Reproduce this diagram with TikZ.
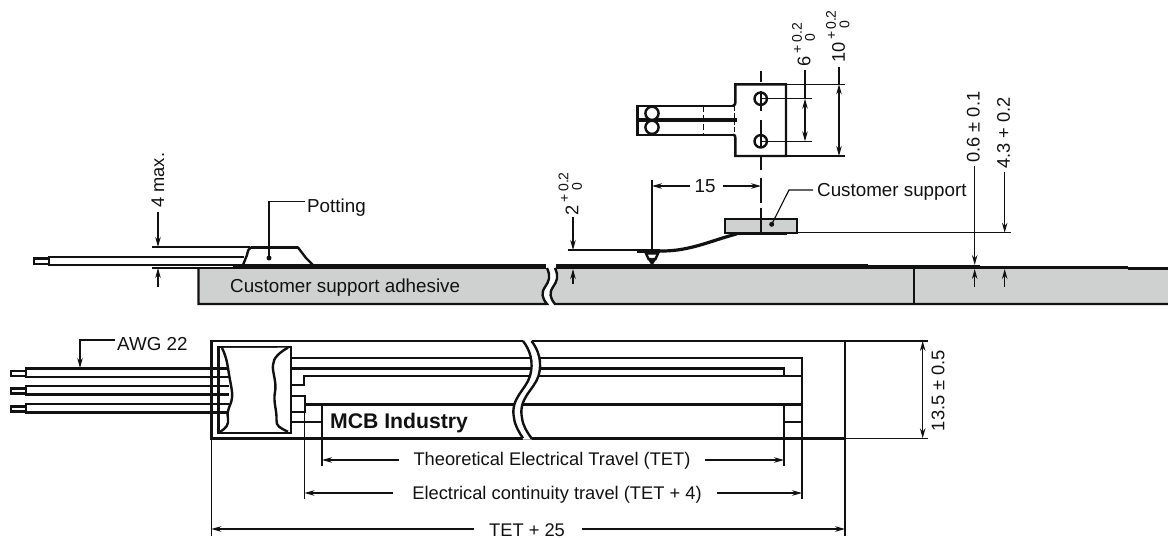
\documentclass[tikz,border=0pt]{standalone}
\usepackage{fontspec}
\setmainfont{Liberation Sans}
\usetikzlibrary{arrows.meta}
\definecolor{blockgray}{HTML}{CFD1D0}
\definecolor{inkc}{HTML}{111111}
\tikzset{
 thin line/.style={line width=1.15pt,draw=inkc},
 heavy/.style={line width=2.4pt,draw=inkc},
 dimarrow/.style={line width=1.15pt,draw=inkc,-{Stealth[length=10pt,width=5.5pt]}},
 dimboth/.style={line width=1.15pt,draw=inkc,{Stealth[length=10pt,width=5.5pt]}-{Stealth[length=10pt,width=5.5pt]}},
 lbl/.style={inner sep=0pt,text=inkc,font=\fontsize{18.8}{22}\selectfont},
 lblb/.style={inner sep=0pt,text=inkc,font=\fontsize{18.3}{22}\selectfont},
 vlbl/.style={lblb,rotate=90},
 small/.style={inner sep=0pt,text=inkc,rotate=90,font=\fontsize{14}{16}\selectfont},
 centerdash/.style={line width=1.8pt,draw=inkc},
 dot/.style={circle,fill=inkc,inner sep=0pt,minimum size=5pt},
}
\begin{document}
\begin{tikzpicture}[x=1pt,y=-1pt]
\useasboundingbox (0,0) rectangle (1168,538);
% ---- side view: base blocks
\fill[blockgray] (198.5,268) -- (547,268) .. controls (551,277) and (549,281) .. (545,287) .. controls (541,293) and (542,298) .. (547,304) -- (198.5,304) -- cycle;
\fill[blockgray] (1168,268) -- (555,268) .. controls (559,277) and (557,281) .. (553,287) .. controls (549,293) and (550,298) .. (555,304) -- (1168,304) -- cycle;
\draw[heavy] (547,268) .. controls (551,277) and (549,281) .. (545,287) .. controls (541,293) and (542,298) .. (547,304) -- (198.5,304) -- (198.5,268);
\draw[heavy] (1168,304) -- (555,304) .. controls (550,298) and (549,293) .. (553,287) .. controls (557,281) and (559,277) .. (555,268);
\draw[heavy] (914,268) -- (914,304);
\draw[heavy] (1128,268.3) -- (1168,268.3);
% thick top strips
\draw[line width=5pt,draw=inkc] (233,266.7) -- (546,266.7);
\draw[line width=5pt,draw=inkc] (556,266.7) -- (868,266.7);
\draw[line width=3.8pt,draw=inkc] (868,267.2) -- (980,267.2);
\draw[line width=3.2pt,draw=inkc] (980,267.5) -- (1128,267.5);
% ---- side view: wire and potting
\draw[heavy,fill=white] (34,258.5) rectangle (49,264);
\draw[heavy] (244,256.7) -- (49,256.7) -- (49,265) -- (233,265);
\draw[heavy] (243,265) -- (247,255) .. controls (248,250) and (249,248) .. (251,247.5) -- (298,247.5) -- (306,258) -- (313,265);
\draw[line width=3.8pt,draw=inkc] (251,247.5) -- (298,247.5);
\node[dot] (pottingdot) at (269,258) {};
\node[lbl,anchor=west] (potting) at (307,207.5) {Potting};
\draw[thin line] (pottingdot.center) -- (269,201.7) -- (305,201.7);
% 4 max
\node[vlbl,anchor=west] (fourmaxb) at (158,208) {4 max.};
\coordinate (fa) at (158,247);
\coordinate (fb) at (158,268);
\draw[dimarrow] (158,212) -- (fa);
\draw[dimarrow] (158,287) -- (fb);
\draw[thin line] (152,247) -- (250,247);
\draw[thin line] (152,268) -- (233,268);
\node[lbl,anchor=west] (adhesive) at (230,287.5) {Customer support adhesive};
% ---- side view: customer support and flex
\draw[heavy,fill=blockgray] (725,219) rectangle (796.7,232.7);
\draw[line width=2.8pt,draw=inkc] (737,233.8) -- (786.7,233.8);
\draw[line width=3.2pt,draw=inkc] (650,251) -- (662,251) .. controls (690,251) and (710,241) .. (737,233.8);
\draw[line width=4pt,draw=inkc] (637,251.3) -- (660,251.3);
\draw[heavy,fill=white] (646,253.5) -- (658,253.5) -- (655.5,259) -- (648.5,259) -- cycle;
\fill[inkc] (647.5,259) -- (656.5,259) -- (652.5,265) -- (651.5,265) -- cycle;
\fill[white] (650,255.8) -- (654,255.8) -- (652,258.5) -- cycle;
\draw[thin line] (761,219) -- (761,233);
\draw[centerdash] (761,208) -- (761,219);
\draw[centerdash] (761,178) -- (761,203);
\draw[thin line] (797,232.7) -- (1011,232.7);
\node[dot] (supportdot) at (771.7,224.3) {};
\node[lbl,anchor=west] (support) at (817,192) {Customer support};
\draw[thin line] (supportdot.center) -- (789,190) -- (813,190);
% 15
\node[lbl] (fifteen) at (705,186) {15};
\draw[thin line] (652,180) -- (652,250);
\draw[dimarrow] (690,186) -- (652,186);
\draw[dimarrow] (722.7,186) -- (761,186);
% 2 +0.2/0
\draw[thin line] (567.7,250) -- (640,250);
\draw[dimarrow] (573,217) -- (573,250);
\draw[dimarrow] (573,284) -- (573,269);
\node[vlbl,anchor=west] (twoa) at (572,216) {2};
\node[small] (twob) at (565,198.5) {+};
\node[small] (twoc) at (563.5,182) {0.2};
\node[small] (twod) at (577,187) {0};
% 0.6 and 4.3
\node[vlbl,anchor=west] (sixa) at (973.3,163) {0.6 ± 0.1};
\node[vlbl,anchor=west] (foura) at (1003.5,169) {4.3 + 0.2};
\draw[dimarrow] (974.7,166) -- (974.7,265);
\draw[dimarrow] (974.7,287) -- (974.7,269);
\draw[dimarrow] (1004.7,171.7) -- (1004.7,232.7);
\draw[dimarrow] (1004.7,287) -- (1004.7,269);
% ---- connector top view
\draw[heavy] (734,105.7) -- (637.5,105.7) -- (637.5,134.7) -- (734,134.7);
\draw[heavy] (733,105.7) .. controls (735,105) and (735.3,104) .. (735.3,103) -- (735.3,84.3) -- (786,84.3) -- (786,156) -- (735.3,156) -- (735.3,137.5) .. controls (735.3,136) and (735,135) .. (733,134.7);
\draw[line width=4pt,draw=inkc] (637.5,120) -- (737,120);
\draw[heavy,fill=white] (652,113.3) circle (6.6);
\draw[heavy,fill=white] (652,127.3) circle (6.6);
\draw[line width=1pt,draw=inkc,dash pattern=on 6pt off 3pt] (703,106) -- (703,135);
\draw[line width=1pt,draw=inkc,dash pattern=on 5pt off 2pt] (734,106) -- (734,135);
\draw[heavy] (760.7,98.7) circle (6.2);
\draw[heavy] (760.7,141.3) circle (6.2);
\draw[centerdash] (761,70.7) -- (761,81.7);
\draw[centerdash] (761,90.7) -- (761,111);
\draw[centerdash] (761,120) -- (761,148);
\draw[centerdash] (761,156) -- (761,170);
\draw[thin line] (761,98.7) -- (811.7,98.7);
\draw[thin line] (761,141.3) -- (811.7,141.3);
\draw[thin line] (786,84.3) -- (845,84.3);
\draw[thin line] (786,156) -- (845,156);
\draw[thin line] (805,70) -- (805,98.7);
\draw[dimboth] (805,98.7) -- (805,141.3);
\draw[dimboth] (839,84.3) -- (839,156);
\draw[thin line] (839,66.7) -- (839,84.3);
\node[vlbl,anchor=west] (sixb) at (804,67) {6};
\node[small] (sixc) at (798,49.5) {+};
\node[small] (sixd) at (797,32.5) {0.2};
\node[small] (sixe) at (810,38) {0};
\node[vlbl,anchor=west] (tena) at (838.5,62.5) {10};
\node[small] (tenb) at (832,35) {+};
\node[small] (tenc) at (831,20) {0.2};
\node[small] (tend) at (844.5,25) {0};
% ---- plan view: wires
\foreach \wy in {368.3,386,404}{
 \draw[heavy,fill=white] (11,\wy+2.6) rectangle (26,\wy+7.6);
 \draw[heavy] (229,\wy) -- (26,\wy) -- (26,\wy+8.4) -- (229,\wy+8.4);
}
% plan view: frame and traces
\draw[heavy] (211.3,341) -- (845,341) -- (845,438.3) -- (211.3,438.3) -- cycle;
\draw[heavy] (218.5,346.7) rectangle (291,432.7);
\draw[heavy] (291,357.7) -- (802,357.7) -- (802,421.7) -- (784,421.7) -- (784,404.3);
\draw[heavy] (291,368.3) -- (784,368.3) -- (784,376);
\draw[heavy] (291,385) -- (304,385) -- (304,376) -- (802,376);
\draw[heavy] (291,395.7) -- (305,395.7) -- (305,411.7) -- (291,411.7);
\draw[heavy] (305,404.3) -- (802,404.3);
\draw[heavy] (322,404.3) -- (322,421.7) -- (291,421.7);
% potting cut-outs
\fill[white] (222,348) .. controls (226,356) and (227,362) .. (228,368) .. controls (230,382) and (233,392) .. (232,398) .. controls (231,406) and (226,410) .. (228,418) .. controls (229,425) and (226,428) .. (220,432) -- (286,431.7) .. controls (280,428) and (276,426) .. (276.5,420) .. controls (277,410) and (273,402) .. (275,392) .. controls (277,382) and (272,372) .. (273,365) .. controls (273,358) and (280,352) .. (288,347.7) -- cycle;
\draw[heavy] (222,348) .. controls (226,356) and (227,362) .. (228,368) .. controls (230,382) and (233,392) .. (232,398) .. controls (231,406) and (226,410) .. (228,418) .. controls (229,425) and (226,428) .. (220,432);
\draw[heavy] (288,347.7) .. controls (280,352) and (273,358) .. (273,365) .. controls (272,372) and (277,382) .. (275,392) .. controls (273,402) and (277,410) .. (276.5,420) .. controls (276,426) and (280,428) .. (288,431.7);
% plan view: break
\fill[white] (523,340) .. controls (530,350) and (534,362) .. (530,376) .. controls (526,390) and (510,398) .. (514,418) .. controls (515,426) and (519,432) .. (523,439.5) -- (531.5,439.5) .. controls (527,432) and (523,426) .. (522,418) .. controls (518,398) and (534,390) .. (538.5,376) .. controls (542.5,362) and (538.5,350) .. (531.5,340) -- cycle;
\draw[heavy] (523,341) .. controls (530,350) and (534,362) .. (530,376) .. controls (526,390) and (510,398) .. (514,418) .. controls (515,426) and (519,432) .. (523,438.3);
\draw[heavy] (531.5,341) .. controls (538.5,350) and (542.5,362) .. (538.5,376) .. controls (534,390) and (518,398) .. (522,418) .. controls (523,426) and (527,432) .. (531.5,438.3);
\node[inner sep=0pt,text=inkc,anchor=west,font=\fontsize{21.2}{24}\selectfont\bfseries] (mcb) at (330,423.5) {MCB Industry};
% AWG 22
\node[lbl,anchor=west] (awg) at (117,344.5) {AWG 22};
\draw[dimarrow] (115,340) -- (80,340) -- (80,368);
% 13.5
\draw[thin line] (845,341) -- (928,341);
\draw[thin line] (845,438.3) -- (928,438.3);
\draw[dimboth] (922.7,341) -- (922.7,438.3);
\node[vlbl] (thirteen) at (938,390.5) {13.5 ± 0.5};
% bottom dimensions
\draw[thin line] (211.3,438) -- (211.3,536);
\draw[thin line] (845,438) -- (845,536);
\draw[thin line] (322,422) -- (322,466);
\draw[thin line] (784,422) -- (784,466);
\draw[thin line] (304.5,412) -- (304.5,499);
\draw[thin line] (802,422) -- (802,499);
\node[lblb] (tet) at (552,460.5) {Theoretical Electrical Travel (TET)};
\node[lblb] (cont) at (557,495) {Electrical continuity travel (TET + 4)};
\node[lblb] (total) at (527,530) {TET + 25};
\draw[dimarrow] (398.7,460) -- (322,460);
\draw[dimarrow] (705,460) -- (784,460);
\draw[dimarrow] (393,493) -- (304.5,493);
\draw[dimarrow] (717,493) -- (802,493);
\draw[dimarrow] (473.6,529) -- (211.3,529);
\draw[dimarrow] (582,529) -- (845,529);
\end{tikzpicture}
\end{document}
